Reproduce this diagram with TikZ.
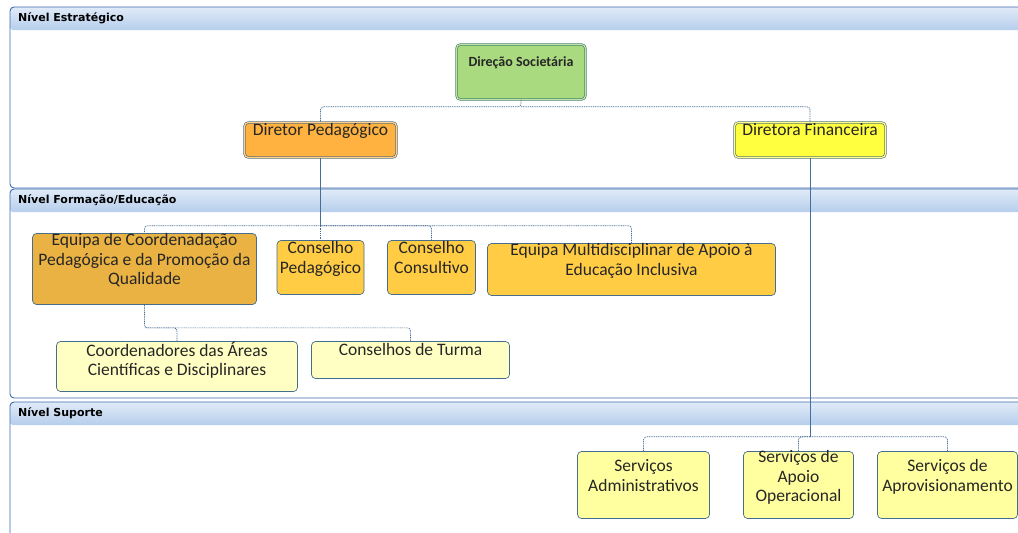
\documentclass[tikz,border=0pt]{standalone}
\usepackage{fontspec}
\setmainfont{Carlito}
\newfontfamily\lanefont{DejaVu Sans}
\definecolor{lanedraw}{RGB}{62,106,176}
\definecolor{headtop}{RGB}{224,235,248}
\definecolor{headbot}{RGB}{182,206,236}
\definecolor{textgray}{RGB}{38,38,38}
\definecolor{boxline}{RGB}{70,110,140}
\definecolor{linkc}{RGB}{70,110,150}
\definecolor{dsfill}{RGB}{170,218,128}
\definecolor{dsline}{RGB}{60,120,110}
\definecolor{dpfill}{RGB}{255,178,64}
\definecolor{dffill}{RGB}{255,255,64}
\definecolor{hdline}{RGB}{75,100,120}
\definecolor{eqfill}{RGB}{233,178,66}
\definecolor{orfill}{RGB}{255,204,68}
\definecolor{pyfill}{RGB}{255,255,196}
\definecolor{syfill}{RGB}{255,255,160}
\newcommand{\orgtext}[4]{\parbox[t][#2][t]{#1}{\centering\vspace*{#3}#4}}

\begin{document}
\begin{tikzpicture}[x=1pt,y=-1pt,
  lane/.style={draw=lanedraw,line width=0.9pt,rounded corners=4pt},
  lanehead/.style={top color=headtop,bottom color=headbot,rounded corners=3pt},
  lanetitle/.style={anchor=west,inner sep=0pt,text=black,font=\lanefont\bfseries\fontsize{11}{13}\selectfont},
  unit/.style={draw=boxline,line width=0.7pt,rounded corners=4pt,inner sep=0pt,text=textgray,font=\fontsize{17.5}{19.5}\selectfont},
  head/.style={unit,draw=#1,line width=0.6pt,double distance=1.2pt},
  link/.style={draw=linkc,line width=0.7pt},
  dlink/.style={link,dash pattern=on 1pt off 0.8pt,rounded corners=3pt}
]
\path[use as bounding box,fill=white] (0,0) rectangle (1018,533);

\shade[lanehead] (10,30) -- (10,7) -- (1030,7) -- (1030,30) -- cycle;
\draw[lane] (1030,7) -| (10,188) -- (1030,188);
\node[lanetitle] (t1) at (18,18.5) {Nível Estratégico};

\shade[lanehead] (10,212) -- (10,189) -- (1030,189) -- (1030,212) -- cycle;
\draw[lane] (1030,189) -| (10,398) -- (1030,398);
\node[lanetitle] (t2) at (18,200.5) {Nível Formação/Educação};

\shade[lanehead] (10,425) -- (10,402) -- (1030,402) -- (1030,425) -- cycle;
\draw[lane] (1030,402) -| (10,560);
\node[lanetitle] (t3) at (18,413.5) {Nível Suporte};

\node[head=dsline,double=dsfill!75!white,fill=dsfill,font=\bfseries\fontsize{14}{16}\selectfont] (ds) at (521,72) {\orgtext{129pt}{55pt}{12pt}{Direção Societária}};
\node[head=hdline,double=dpfill!60!white,fill=dpfill] (dp) at (320.5,140) {\orgtext{152pt}{35pt}{1pt}{Diretor Pedagógico}};
\node[head=hdline,double=dffill!60!white,fill=dffill] (df) at (810,140) {\orgtext{151pt}{35pt}{1pt}{Diretora Financeira}};

\node[unit,fill=eqfill] (eq) at (144.5,269) {\orgtext{224pt}{71pt}{0pt}{Equipa de Coordenadação\\Pedagógica e da Promoção da\\Qualidade}};
\node[unit,fill=orfill] (cp) at (320.5,267.5) {\orgtext{87pt}{54pt}{1pt}{Conselho\\Pedagógico}};
\node[unit,fill=orfill] (cc) at (431.5,267.5) {\orgtext{88pt}{54pt}{1pt}{Conselho\\Consultivo}};
\node[unit,fill=orfill] (em) at (631.5,269.5) {\orgtext{288pt}{52pt}{0pt}{Equipa Multidisciplinar de Apoio à\\Educação Inclusiva}};

\node[unit,fill=pyfill] (ca) at (177,366.5) {\orgtext{241pt}{50pt}{0pt}{Coordenadores das Áreas\\Científicas e Disciplinares}};
\node[unit,fill=pyfill] (ct) at (410.5,360) {\orgtext{198pt}{37pt}{2pt}{Conselhos de Turma}};

\node[unit,fill=syfill] (sa) at (643.5,485) {\orgtext{132pt}{67pt}{8pt}{Serviços\\Administrativos}};
\node[unit,fill=syfill] (so) at (798.5,485) {\orgtext{110pt}{67pt}{-1pt}{Serviços de\\Apoio\\Operacional}};
\node[unit,fill=syfill] (sp) at (947.5,485) {\orgtext{140pt}{67pt}{8pt}{Serviços de\\Aprovisionamento}};

\draw[dlink] (ds.south) -- ++(0,7) coordinate (jt) -| (dp.north);
\draw[dlink] (jt) -| (df.north);
\draw[link] (dp.south) -- ++(0,68) coordinate (jp);
\draw[dlink] (jp) -- (cp.north);
\draw[dlink] (jp) -| (eq.north);
\draw[dlink] (jp) -| (cc.north);
\draw[dlink] (jp) -| (em.north);
\draw[dlink] (eq.south) -- ++(0,23) coordinate (je) -| (ca.north);
\draw[dlink] (je) -| (ct.north);
\draw[link] (df.south) -- ++(0,279) coordinate (jf);
\draw[dlink] (jf) -| (sa.north);
\draw[dlink] (jf) -| (so.north);
\draw[dlink] (jf) -| (sp.north);
\end{tikzpicture}
\end{document}
